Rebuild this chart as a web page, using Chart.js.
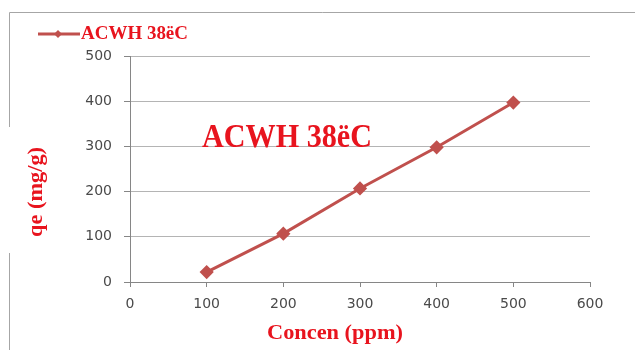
<!DOCTYPE html>
<html>
<head>
<meta charset="utf-8">
<script src="https://cdn.jsdelivr.net/npm/chart.js@4/dist/chart.umd.min.js"></script>
<style>
  html, body { margin: 0; padding: 0; background: #fff; }
  #wrap { width: 635px; height: 350px; position: relative; }
</style>
</head>
<body>
<div id="wrap"><canvas id="adsChart"></canvas></div>
<script>
// data
const seriesName = 'ACWH 38ëC';
const concen = [100, 200, 300, 400, 500];
const qe = [22, 107, 207, 298, 397];
const xTicks = [0, 100, 200, 300, 400, 500, 600];
const yTicks = [0, 100, 200, 300, 400, 500];

const RED = '#C0504D';
const TEXT_RED = '#E8141E';
const SERIF = "'Liberation Serif', 'Times New Roman', serif";

// text squeezed/stretched to a measured width
function fitText(ctx, str, x, y, font, width, align) {
    ctx.save();
    ctx.font = font;
    const w = ctx.measureText(str).width;
    const s = width / w;
    ctx.translate(x, y);
    ctx.scale(s, 1);
    ctx.textAlign = align || 'left';
    ctx.fillText(str, 0, 0);
    ctx.restore();
}

const decorPlugin = {
    id: 'decor',
    beforeDraw(chart) {
        const ctx = chart.ctx;
        ctx.save();
        ctx.fillStyle = '#fff';
        ctx.fillRect(0, 0, chart.width, chart.height);
        // outer frame (top and left only, with the gap behind the axis title)
        ctx.strokeStyle = '#a6a6a6';
        ctx.lineWidth = 1;
        ctx.beginPath();
        ctx.moveTo(9.5, 350);
        ctx.lineTo(9.5, 253);
        ctx.moveTo(9.5, 127);
        ctx.lineTo(9.5, 12.5);
        ctx.lineTo(635, 12.5);
        ctx.stroke();
        ctx.restore();
    },
    afterDraw(chart) {
        const ctx = chart.ctx;
        ctx.save();
        ctx.fillStyle = TEXT_RED;
        ctx.textBaseline = 'alphabetic';

        // legend: line + diamond + name
        ctx.strokeStyle = RED;
        ctx.lineWidth = 3;
        ctx.beginPath();
        ctx.moveTo(38, 34);
        ctx.lineTo(80, 34);
        ctx.stroke();
        ctx.fillStyle = RED;
        ctx.beginPath();
        ctx.moveTo(58, 30);
        ctx.lineTo(62, 34);
        ctx.lineTo(58, 38);
        ctx.lineTo(54, 34);
        ctx.closePath();
        ctx.fill();
        ctx.fillStyle = TEXT_RED;
        fitText(ctx, seriesName, 81, 39, 'bold 19px ' + SERIF, 107);

        // label inside the plot
        fitText(ctx, seriesName, 202, 147, 'bold 33px ' + SERIF, 170);

        // axis titles
        fitText(ctx, 'Concen (ppm)', 267, 339, 'bold 20px ' + SERIF, 136);
        ctx.save();
        ctx.translate(36, 192);
        ctx.rotate(-Math.PI / 2);
        ctx.textBaseline = 'middle';
        fitText(ctx, 'qe (mg/g)', 0, 0, 'bold 22px ' + SERIF, 90, 'center');
        ctx.restore();

        ctx.restore();
    }
};

const ctx = document.getElementById('adsChart').getContext('2d');
new Chart(ctx, {
    type: 'scatter',
    data: {
        datasets: [{
            label: seriesName,
            data: concen.map((c, i) => ({ x: c, y: qe[i] })),
            showLine: true,
            borderColor: RED,
            backgroundColor: RED,
            borderWidth: 3,
            pointStyle: 'rectRot',
            pointRadius: 5,
            pointHoverRadius: 5
        }]
    },
    options: {
        responsive: true,
        maintainAspectRatio: false,
        animation: false,
        layout: { padding: { top: 56, right: 45, left: 0, bottom: 0 } },
        scales: {
            x: {
                type: 'linear',
                min: 0,
                max: 600,
                afterBuildTicks(scale) { scale.ticks = xTicks.map(v => ({ value: v })); },
                afterFit(scale) { scale.height = 68; },
                ticks: {
                    color: '#4a4a4a',
                    font: { family: "'DejaVu Sans'", size: 14 },
                    padding: 9
                },
                grid: {
                    drawOnChartArea: false,
                    tickLength: 5,
                    tickColor: '#868686'
                },
                border: { color: '#868686' }
            },
            y: {
                min: 0,
                max: 500,
                afterBuildTicks(scale) { scale.ticks = yTicks.map(v => ({ value: v })); },
                afterFit(scale) { scale.width = 130; },
                ticks: {
                    color: '#4a4a4a',
                    font: { family: "'DejaVu Sans'", size: 14 },
                    padding: 12
                },
                grid: {
                    color: '#b4b4b4',
                    tickLength: 6,
                    tickColor: '#868686'
                },
                border: { color: '#868686' }
            }
        },
        plugins: {
            legend: { display: false },
            tooltip: { enabled: false }
        }
    },
    plugins: [decorPlugin]
});
</script>
</body>
</html>
